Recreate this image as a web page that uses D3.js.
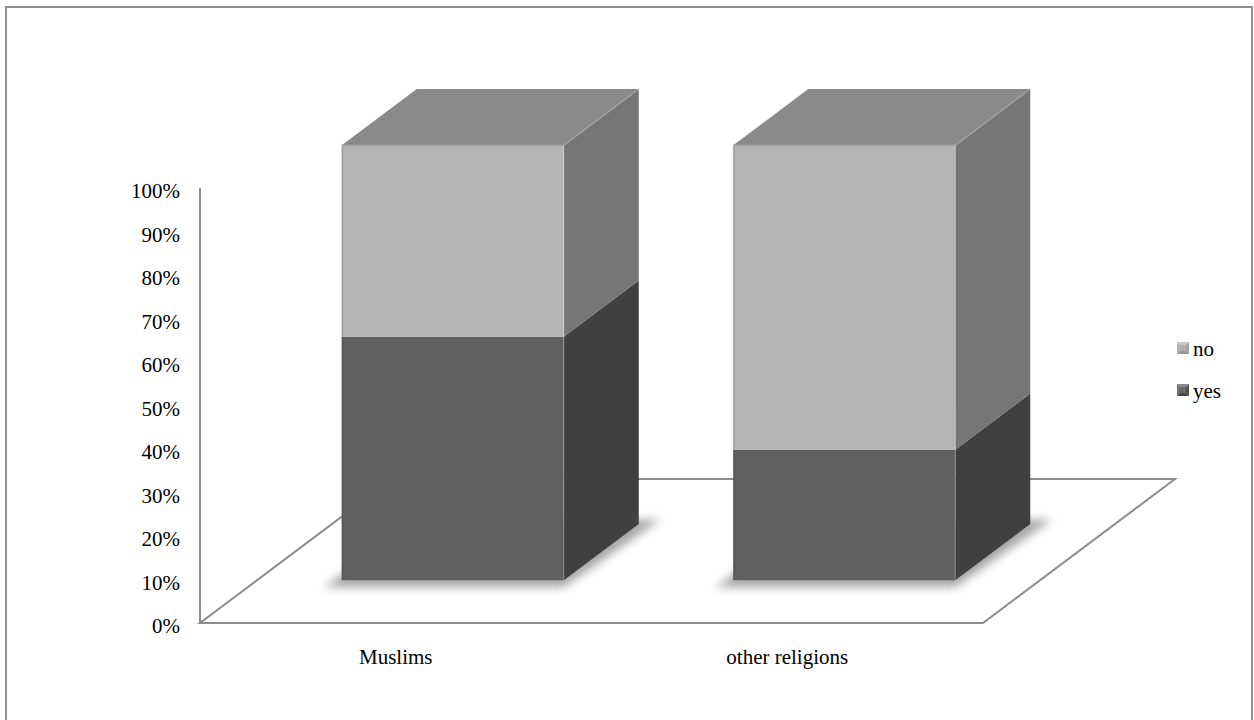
<!DOCTYPE html>
<html>
<head>
<meta charset="utf-8">
<script src="https://cdn.jsdelivr.net/npm/d3@7"></script>
<style>
  html, body { margin: 0; padding: 0; background: #fff; }
  svg { display: block; }
  svg text { font-family: "Times New Roman", Times, "Liberation Serif", "DejaVu Serif", serif; }
</style>
</head>
<body>
<svg id="chart" width="1254" height="720"></svg>
<script>
// Share of answers per group (percent)
const categories = ["Muslims", "other religions"];
const yesValues = [56, 30];
const noValues = [44, 70];
const seriesNames = ["yes", "no"];
const tickValues = [0, 10, 20, 30, 40, 50, 60, 70, 80, 90, 100];

const svg = d3.select("#chart");
const FONT_SIZE = 21;

// Outer frame
svg.append("rect")
  .attr("x", 6).attr("y", 7).attr("width", 1246).attr("height", 730)
  .attr("fill", "#fff").attr("stroke", "#8f8f8f").attr("stroke-width", 2);

// Oblique projection: depth z shifts a point right and up
const slope = 0.75;
const proj = (x, y, z) => [x + z, y - z * slope];

// Floor plane extents
const floorLeft = 200, floorRight = 983, floorDepth = 192;
// Bars sit between these depths
const barZ0 = 57, barZ1 = 132;

const x = d3.scaleBand().domain(categories).range([floorLeft, floorRight]).padding(0);
const barWidth = 222;

// Value scale on the front plane (z = 0)
const y = d3.scaleLinear().domain([0, 100]).range([623, 188]);

const defs = svg.append("defs");
const blur = defs.append("filter").attr("id", "soft").attr("x", "-20%").attr("y", "-20%").attr("width", "140%").attr("height", "140%");
blur.append("feGaussianBlur").attr("stdDeviation", 5);

const pts = arr => arr.map(p => p.join(",")).join(" ");

// Floor
const floorPts = [
  proj(floorLeft, y(0), 0), proj(floorRight, y(0), 0),
  proj(floorRight, y(0), floorDepth), proj(floorLeft, y(0), floorDepth)
];
svg.append("polygon")
  .attr("points", pts(floorPts))
  .attr("fill", "#fff").attr("stroke", "#8c8c8c").attr("stroke-width", 2)
  .attr("stroke-linejoin", "miter");

// Vertical axis line
svg.append("line")
  .attr("x1", floorLeft).attr("x2", floorLeft)
  .attr("y1", y(0)).attr("y2", y(100))
  .attr("stroke", "#8c8c8c").attr("stroke-width", 2);

// Tick labels
svg.append("g").selectAll("text").data(tickValues).join("text")
  .attr("x", 180).attr("y", d => y(d) + 3)
  .attr("text-anchor", "end").attr("dominant-baseline", "central")
  .attr("font-size", FONT_SIZE).attr("fill", "#000")
  .text(d => d + "%");

// Category labels
svg.append("g").selectAll("text").data(categories).join("text")
  .attr("x", d => x(d) + x.bandwidth() / 2).attr("y", 664)
  .attr("text-anchor", "middle")
  .attr("font-size", FONT_SIZE).attr("fill", "#000")
  .text(d => d);

// Stacked data
const rows = categories.map((c, i) => ({ cat: c, yes: yesValues[i], no: noValues[i] }));
const stacked = d3.stack().keys(seriesNames)(rows);

const shades = {
  yes: { front: "#606060", side: "#404040" },
  no: { front: "#b4b4b4", side: "#767676" }
};
const topFill = "#8a8a8a";

const bars = svg.append("g");

rows.forEach((row, i) => {
  const x0 = x(row.cat) + x.bandwidth() / 2 - barWidth / 2;
  const x1 = x0 + barWidth;
  const g = bars.append("g");

  // soft contact shadow under the bar
  const sh = [
    proj(x0 - 14, y(0) + 4, barZ0 - 4), proj(x1 + 4, y(0) + 4, barZ0 - 4),
    proj(x1 + 16, y(0), barZ1 + 6), proj(x0 - 2, y(0), barZ1 + 6)
  ];
  g.append("polygon").attr("points", pts(sh))
    .attr("fill", "#000").attr("opacity", 0.35).attr("filter", "url(#soft)");

  seriesNames.forEach(key => {
    const seg = stacked.find(s => s.key === key)[i];
    const v0 = seg[0], v1 = seg[1];
    // side face
    g.append("polygon")
      .attr("points", pts([
        proj(x1, y(v0), barZ0), proj(x1, y(v0), barZ1),
        proj(x1, y(v1), barZ1), proj(x1, y(v1), barZ0)
      ]))
      .attr("fill", shades[key].side);
    // front face
    const f0 = proj(x0, y(v1), barZ0), f1 = proj(x1, y(v0), barZ0);
    g.append("rect")
      .attr("x", f0[0]).attr("y", f0[1])
      .attr("width", f1[0] - f0[0]).attr("height", f1[1] - f0[1])
      .attr("fill", shades[key].front);
    // faint edge on the left of the front face
    g.append("line")
      .attr("x1", f0[0] + 0.5).attr("x2", f0[0] + 0.5)
      .attr("y1", f0[1]).attr("y2", f1[1])
      .attr("stroke", "#000").attr("stroke-opacity", 0.12).attr("stroke-width", 2);
  });

  // top face
  const tFL = proj(x0, y(100), barZ0), tFR = proj(x1, y(100), barZ0);
  const tBR = proj(x1, y(100), barZ1), tBL = proj(x0, y(100), barZ1);
  g.append("polygon").attr("points", pts([tFL, tFR, tBR, tBL])).attr("fill", topFill);
  // bevel highlights on the top edges
  g.append("polyline").attr("points", pts([tFL, tFR, tBR]))
    .attr("fill", "none").attr("stroke", "#a2a2a2").attr("stroke-width", 1.5);
  // light edge between front and side
  g.append("line")
    .attr("x1", tFR[0]).attr("x2", tFR[0])
    .attr("y1", tFR[1]).attr("y2", proj(x1, y(0), barZ0)[1])
    .attr("stroke", "#fff").attr("stroke-opacity", 0.18).attr("stroke-width", 1.5);
});

// Legend (top entry is the upper series)
const legendItems = [
  { key: "no", base: [200, 180, 176, 160, 150] },
  { key: "yes", base: [140, 110, 104, 80, 70] }
];
const legend = svg.append("g");
legendItems.forEach((it, i) => {
  const lx = 1177, ly = 342 + i * 42, s = 12, c = [lx + s / 2, ly + s / 2];
  const g = legend.append("g");
  const tri = (a, b, col) => g.append("polygon").attr("points", pts([a, b, c])).attr("fill", d3.rgb(col, col, col));
  tri([lx, ly], [lx + s, ly], it.base[0]);
  tri([lx, ly], [lx, ly + s], it.base[1]);
  tri([lx + s, ly], [lx + s, ly + s], it.base[3]);
  tri([lx, ly + s], [lx + s, ly + s], it.base[4]);
  g.append("rect").attr("x", lx + 3).attr("y", ly + 3).attr("width", s - 6).attr("height", s - 6)
    .attr("fill", d3.rgb(it.base[2], it.base[2], it.base[2]));
  g.append("text").attr("x", lx + 16).attr("y", ly + s / 2 + 1)
    .attr("dominant-baseline", "central")
    .attr("font-size", FONT_SIZE).attr("fill", "#000")
    .text(it.key);
});
</script>
</body>
</html>
